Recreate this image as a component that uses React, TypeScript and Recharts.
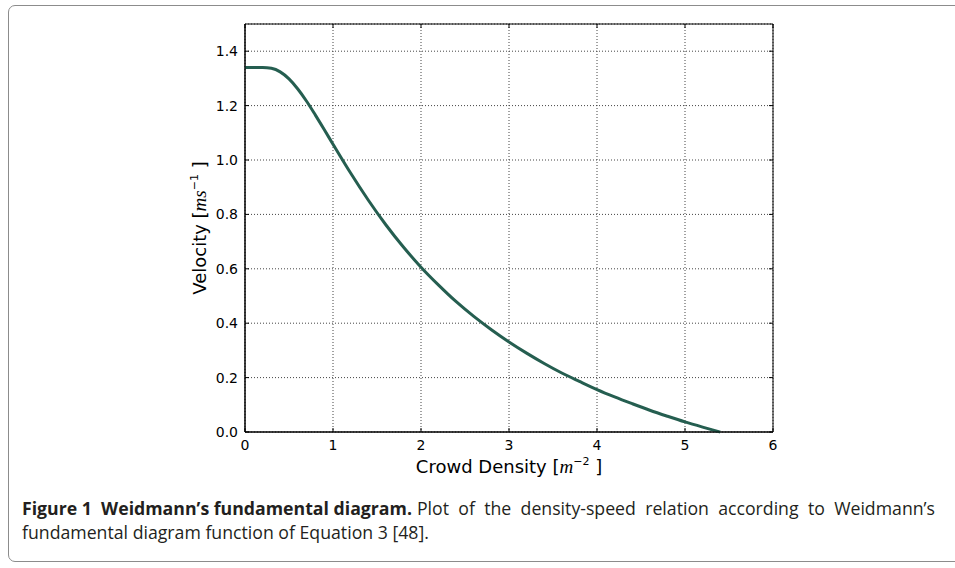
import React from 'react';
import { LineChart, Line, XAxis, YAxis, CartesianGrid, ReferenceArea, Label } from 'recharts';

// values (density in m^-2, velocity in m/s)
const density = [0, 0.1, 0.2, 0.3, 0.4, 0.5, 0.6, 0.7, 0.8, 0.9, 1.0, 1.2, 1.4, 1.6, 1.8, 2.0, 2.2, 2.4, 2.6, 2.8, 3.0, 3.2, 3.4, 3.6, 3.8, 4.0, 4.2, 4.4, 4.6, 4.8, 5.0, 5.2, 5.4];
const velocity = [1.34, 1.34, 1.34, 1.337, 1.324, 1.298, 1.261, 1.216, 1.165, 1.112, 1.058, 0.952, 0.853, 0.762, 0.68, 0.606, 0.54, 0.479, 0.425, 0.376, 0.331, 0.29, 0.252, 0.217, 0.186, 0.156, 0.129, 0.104, 0.08, 0.058, 0.037, 0.018, 0.0];

const xTicks = [0, 1, 2, 3, 4, 5, 6];
const yTicks = [0, 0.2, 0.4, 0.6, 0.8, 1.0, 1.2, 1.4];

const data = density.map((d, i) => ({ density: d, velocity: velocity[i] }));

const PLOT_TOP = 24;
const PLOT_RIGHT = 773;
const tickFont = '"DejaVu Sans", sans-serif';

const XTick = (props: any) => {
  const { x, y, payload } = props;
  const axisY = y - 8;
  return (
    <g>
      <line x1={x} x2={x} y1={axisY} y2={axisY - 4} stroke="#000" />
      <line x1={x} x2={x} y1={PLOT_TOP} y2={PLOT_TOP + 4} stroke="#000" />
      <text x={x} y={y + 10} textAnchor="middle" fontFamily={tickFont} fontSize={14} fill="#000">
        {payload.value}
      </text>
    </g>
  );
};

const YTick = (props: any) => {
  const { x, y, payload } = props;
  const axisX = x + 6;
  return (
    <g>
      <line x1={axisX} x2={axisX + 4} y1={y} y2={y} stroke="#000" />
      <line x1={PLOT_RIGHT} x2={PLOT_RIGHT - 4} y1={y} y2={y} stroke="#000" />
      <text x={x - 1} y={y + 5} textAnchor="end" fontFamily={tickFont} fontSize={14} fill="#000">
        {Number(payload.value).toFixed(1)}
      </text>
    </g>
  );
};

const mathFont = '"Liberation Serif", serif';

const captionRest = 'Plot of the density-speed relation according to Weidmann’s';

export default function App() {
  return (
    <div style={{ position: 'absolute', left: 0, top: 0, width: 955, height: 568, background: '#fff', overflow: 'hidden' }}>
      <div
        style={{
          position: 'absolute', left: 8, top: 5, width: 1000, height: 557,
          border: '1.5px solid #8c8c8c', borderRadius: 7, boxSizing: 'border-box',
        }}
      />
      <div style={{ position: 'absolute', left: 0, top: 0 }}>
        <LineChart width={955} height={500} data={data} margin={{ top: 24, right: 182, left: 205, bottom: 38 }}>
          <CartesianGrid stroke="#444" strokeDasharray="1 2" />
          <XAxis
            dataKey="density"
            type="number"
            domain={[0, 6]}
            ticks={xTicks}
            height={30}
            tickSize={0}
            tickMargin={8}
            tickLine={false}
            axisLine={{ stroke: '#000' }}
            tick={<XTick />}
          >
            <Label
              content={(p: any) => {
                const vb = p.viewBox;
                return (
                  <text x={vb.x + vb.width / 2} y={vb.y + 41} textAnchor="middle" fontFamily={tickFont} fontSize={18} fill="#000">
                    Crowd Density [<tspan fontFamily={mathFont} fontStyle="italic" fontSize={19}>m</tspan>
                    <tspan fontSize={11} dy={-8}>−2</tspan>
                    <tspan dy={8}> ]</tspan>
                  </text>
                );
              }}
            />
          </XAxis>
          <YAxis
            type="number"
            domain={[0, 1.5]}
            ticks={yTicks}
            width={40}
            tickSize={0}
            tickMargin={6}
            tickLine={false}
            axisLine={{ stroke: '#000' }}
            tick={<YTick />}
          >
            <Label
              content={(p: any) => {
                const vb = p.viewBox;
                const cx = 206;
                const cy = vb.y + vb.height / 2;
                return (
                  <text x={cx} y={cy} textAnchor="middle" transform={`rotate(-90 ${cx} ${cy})`} fontFamily={tickFont} fontSize={18} fill="#000">
                    Velocity [<tspan fontFamily={mathFont} fontStyle="italic" fontSize={19}>ms</tspan>
                    <tspan fontSize={11} dy={-8}>−1</tspan>
                    <tspan dy={8}> ]</tspan>
                  </text>
                );
              }}
            />
          </YAxis>
          <ReferenceArea x1={0} x2={6} y1={0} y2={1.5} fill="none" stroke="#000" strokeOpacity={1} ifOverflow="visible" />
          <Line
            type="monotone"
            dataKey="velocity"
            stroke="#255e50"
            strokeWidth={3}
            dot={false}
            isAnimationActive={false}
          />
        </LineChart>
      </div>
      <div
        style={{
          position: 'absolute', left: 22, top: 496, width: 913,
          fontFamily: '"Open Sans", sans-serif', fontSize: 17.7, lineHeight: '24px', color: '#231f20',
        }}
      >
        <div style={{ display: 'flex', whiteSpace: 'nowrap' }}>
          <b>Figure 1&nbsp;&nbsp;Weidmann’s fundamental diagram.</b>
          <div style={{ flex: 1, display: 'flex', justifyContent: 'space-between', marginLeft: 5 }}>
            {captionRest.split(' ').map((w, i) => (
              <span key={i}>{w}</span>
            ))}
          </div>
        </div>
        <div style={{ whiteSpace: 'nowrap' }}>fundamental diagram function of Equation 3 [48].</div>
      </div>
    </div>
  );
}
